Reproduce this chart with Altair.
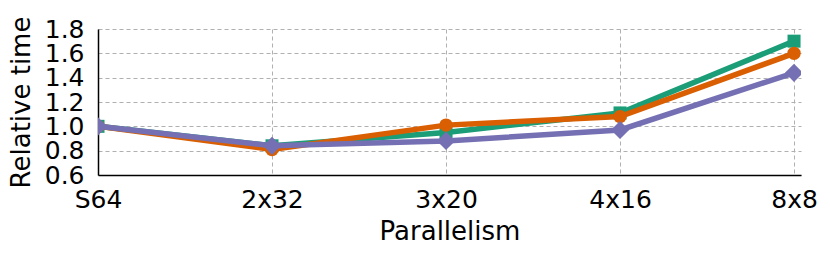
import altair as alt
import pandas as pd

categories = ["S64", "2x32", "3x20", "4x16", "8x8"]
series_names = ["A", "B", "C"]
green_vals = [1.00, 0.84, 0.95, 1.11, 1.70]
orange_vals = [1.00, 0.81, 1.01, 1.08, 1.60]
purple_vals = [1.00, 0.84, 0.88, 0.97, 1.44]

colors = ["#1b9e77", "#d95f02", "#7570b3"]
shapes = ["square", "circle", "diamond"]
marker_sizes = [170, 180, 330]

rows = []
for name, vals in zip(series_names, [green_vals, orange_vals, purple_vals]):
    for i, (c, v) in enumerate(zip(categories, vals)):
        rows.append({"series": name, "idx": i, "cat": c, "value": v})
df = pd.DataFrame(rows)

label_expr = "[" + ",".join(f"'{c}'" for c in categories) + "][datum.value]"

x = alt.X("idx:Q", scale=alt.Scale(domain=[0, 4.04], nice=False, zero=False),
          axis=alt.Axis(values=list(range(len(categories))), labelExpr=label_expr,
                        title="Parallelism", ticks=False, labelPadding=12,
                        titlePadding=6, labelFlush=False, labelOverlap=False,
                        labelBound=False))
y = alt.Y("value:Q", scale=alt.Scale(domain=[0.6, 1.8], nice=False, zero=False),
          axis=alt.Axis(values=[0.6, 0.8, 1.0, 1.2, 1.4, 1.6, 1.8], format=".1f",
                        title="Relative time", ticks=False, labelPadding=14,
                        titlePadding=10, labelFlush=False, labelOverlap=False,
                        labelBound=False))
color = alt.Color("series:N", scale=alt.Scale(domain=series_names, range=colors), legend=None)

layers = []
for name, shp, sz in zip(series_names, shapes, marker_sizes):
    sub = df[df.series == name]
    layers.append(alt.Chart(sub).mark_line(strokeWidth=5.5, clip=True).encode(x=x, y=y, color=color))
    layers.append(alt.Chart(sub).mark_point(filled=True, opacity=1, clip=True,
                                            shape=shp, size=sz).encode(x=x, y=y, color=color))

chart = alt.layer(*layers).properties(
    width=703, height=146,
    autosize=alt.AutoSizeParams(type="none"),
    padding={"left": 90, "top": 21, "right": 21, "bottom": 76},
).configure_view(stroke=None).configure_axis(
    labelFont="DejaVu Sans", titleFont="DejaVu Sans",
    labelFontSize=25, titleFontSize=26, titleFontWeight="normal",
    labelColor="black", titleColor="black",
    domainColor="black", domainWidth=1.5,
    grid=True, gridColor="#b0b0b0", gridDash=[4, 3], gridWidth=1,
)

chart.save("out.html", embed_options={"renderer": "svg", "actions": False})
